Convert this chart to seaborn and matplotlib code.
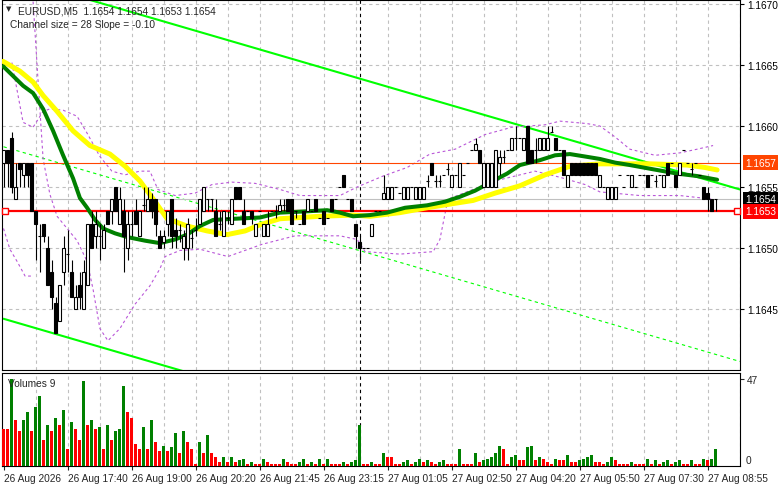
import matplotlib

matplotlib.use("Agg")

import matplotlib.pyplot as plt
import numpy as np
import pandas as pd
import seaborn as sns

sns.set_theme(style="white")
plt.rcParams["font.family"] = ["Liberation Sans", "DejaVu Sans"]

# ---- candles (M5 bars, oldest first) ----
opens = [
    1.1657, 1.1658, 1.1659, 1.1654, 1.1657, 1.1656, 1.1657, 1.1657, 1.1653, 1.1651,
    1.1652, 1.1650, 1.1648, 1.16455, 1.1644, 1.1648, 1.16495, 1.1648, 1.1645, 1.1647,
    1.1645, 1.1647, 1.1652, 1.1651, 1.1651, 1.1650, 1.1653, 1.1653, 1.1655, 1.1652,
    1.1653, 1.1650, 1.1652, 1.1653, 1.1651, 1.16535, 1.1653, 1.1654, 1.1654, 1.1651,
    1.16505, 1.1652, 1.1654, 1.16515, 1.16515, 1.1650, 1.1650, 1.16508, 1.16515, 1.1652,
    1.1653, 1.1654, 1.1654, 1.1653, 1.1652, 1.1651, 1.16525, 1.1652, 1.1655, 1.1655,
    1.1653, 1.1653, 1.1653, 1.1651, 1.1653, 1.1651, 1.1651, 1.1653, 1.1653, 1.1653,
    1.16535, 1.1654, 1.1654, 1.1653, 1.1652, 1.1653, 1.1653, 1.1653, 1.1654, 1.16525,
    1.1653, 1.16525, 1.1654, 1.1654, 1.1655, 1.1656, 1.1654, 1.1654, 1.1652, 1.16505,
    1.1650, 1.1650, 1.1651, 1.1653, 1.1653, 1.1654, 1.1654, 1.1654, 1.1655, 1.16545,
    1.1654, 1.1654, 1.1655, 1.1654, 1.1654, 1.1654, 1.16555, 1.1657, 1.16555, 1.16555,
    1.1656, 1.16565, 1.1655, 1.1656, 1.1655, 1.1656, 1.1657, 1.1658, 1.1658, 1.1658,
    1.1655, 1.1655, 1.1655, 1.1655, 1.1657, 1.16575, 1.1658, 1.1658, 1.1659, 1.1659,
    1.1658, 1.1660, 1.1658, 1.1658, 1.1658, 1.1658, 1.1658, 1.16595, 1.1659, 1.1658,
    1.1658, 1.1655, 1.1657, 1.1657, 1.1657, 1.1657, 1.1657, 1.1657, 1.1657, 1.1655,
    1.1655, 1.1654, 1.1654, 1.1654, 1.1656, 1.1655, 1.1656, 1.1655, 1.1655, 1.1656,
    1.1656, 1.1656, 1.1656, 1.16555, 1.1656, 1.1655, 1.1657, 1.1657, 1.1656, 1.1656,
    1.1658, 1.1657, 1.16565, 1.1657, 1.1656, 1.1655, 1.16545, 1.1654, 1.1654,
]
highs = [
    1.1658, 1.1658, 1.16595, 1.1657, 1.1657, 1.1657, 1.1657, 1.1657, 1.1653, 1.1652,
    1.1652, 1.1651, 1.1649, 1.1646, 1.1647, 1.1651, 1.16515, 1.1649, 1.1647, 1.1648,
    1.1649, 1.1652, 1.1653, 1.1653, 1.1652, 1.1652, 1.1653, 1.1654, 1.1655, 1.1655,
    1.1654, 1.1653, 1.1653, 1.1654, 1.1653, 1.1655, 1.1655, 1.16545, 1.1654, 1.16515,
    1.16515, 1.1653, 1.1654, 1.16525, 1.1652, 1.16515, 1.16525, 1.16515, 1.16525, 1.1654,
    1.1655, 1.1654, 1.1654, 1.1654, 1.1653, 1.1653, 1.1653, 1.1654, 1.1655, 1.1655,
    1.1654, 1.1653, 1.1653, 1.1652, 1.1653, 1.1652, 1.1653, 1.1653, 1.16535, 1.1654,
    1.1654, 1.1654, 1.1654, 1.1653, 1.1652, 1.1653, 1.1654, 1.1653, 1.1654, 1.16525,
    1.1653, 1.16525, 1.1654, 1.1654, 1.1655, 1.1656, 1.1654, 1.1654, 1.1652, 1.1651,
    1.1650, 1.1650, 1.1652, 1.1653, 1.1653, 1.1656, 1.1655, 1.1655, 1.1655, 1.16545,
    1.1655, 1.1655, 1.1655, 1.1655, 1.1655, 1.1655, 1.1656, 1.1657, 1.1656, 1.1656,
    1.1656, 1.1657, 1.1656, 1.1656, 1.1657, 1.1656, 1.1657, 1.1658, 1.1659, 1.1658,
    1.1657, 1.1657, 1.1657, 1.1658, 1.1658, 1.1658, 1.1658, 1.1659, 1.1660, 1.1659,
    1.1659, 1.1660, 1.1658, 1.1659, 1.1659, 1.1659, 1.1660, 1.1660, 1.1659, 1.1658,
    1.1658, 1.1656, 1.1657, 1.1657, 1.1657, 1.1657, 1.1657, 1.1657, 1.1657, 1.1656,
    1.1655, 1.1655, 1.1655, 1.1655, 1.1656, 1.1655, 1.1656, 1.1656, 1.1655, 1.1656,
    1.1656, 1.1656, 1.1656, 1.1656, 1.1656, 1.1656, 1.1657, 1.1657, 1.1656, 1.1657,
    1.1658, 1.1657, 1.1657, 1.1657, 1.1656, 1.1655, 1.1655, 1.1654, 1.1654,
]
lows = [
    1.1655, 1.1655, 1.16545, 1.1654, 1.1655, 1.1655, 1.1655, 1.1653, 1.1649, 1.1648,
    1.16505, 1.1647, 1.1645, 1.1643, 1.1644, 1.1647, 1.1648, 1.1646, 1.1645, 1.1645,
    1.1645, 1.1647, 1.1650, 1.1650, 1.1649, 1.1650, 1.1652, 1.1652, 1.1653, 1.1652,
    1.1648, 1.1649, 1.1651, 1.1652, 1.1651, 1.1653, 1.1653, 1.16525, 1.1651, 1.1650,
    1.1650, 1.1651, 1.1650, 1.1650, 1.16505, 1.1649, 1.1649, 1.1650, 1.1651, 1.1652,
    1.1653, 1.1653, 1.1653, 1.1651, 1.16515, 1.1651, 1.1652, 1.1652, 1.1654, 1.1654,
    1.1652, 1.1653, 1.1652, 1.1651, 1.1653, 1.1651, 1.1651, 1.1653, 1.16525, 1.1653,
    1.1653, 1.1653, 1.1652, 1.16525, 1.1652, 1.1652, 1.1653, 1.1653, 1.1653, 1.16525,
    1.1652, 1.16525, 1.1653, 1.1654, 1.1655, 1.1655, 1.1654, 1.1653, 1.1650, 1.1649,
    1.1650, 1.1650, 1.1651, 1.1653, 1.1653, 1.1654, 1.1654, 1.1654, 1.1655, 1.16545,
    1.1654, 1.1654, 1.1655, 1.1654, 1.1654, 1.1654, 1.1655, 1.1656, 1.1655, 1.1655,
    1.1656, 1.1656, 1.1655, 1.1656, 1.1655, 1.1656, 1.1657, 1.1658, 1.1658, 1.1657,
    1.1655, 1.1655, 1.1655, 1.1655, 1.1656, 1.1657, 1.1658, 1.1658, 1.1658, 1.1659,
    1.1658, 1.1657, 1.1657, 1.1657, 1.1658, 1.1658, 1.1658, 1.16595, 1.1658, 1.1658,
    1.1656, 1.1655, 1.1656, 1.1656, 1.1656, 1.1656, 1.1656, 1.1656, 1.1656, 1.1655,
    1.1655, 1.1654, 1.1654, 1.1654, 1.1656, 1.1655, 1.1656, 1.1655, 1.1655, 1.1656,
    1.1656, 1.1655, 1.1656, 1.1655, 1.1656, 1.1655, 1.1656, 1.1657, 1.1655, 1.1656,
    1.1658, 1.1657, 1.1656, 1.1657, 1.1656, 1.1654, 1.1653, 1.1653, 1.1653,
]
closes = [
    1.1658, 1.1657, 1.1655, 1.1655, 1.16565, 1.1657, 1.1656, 1.1653, 1.1652, 1.1651,
    1.1651, 1.1647, 1.1646, 1.1643, 1.1647, 1.1650, 1.16495, 1.1646, 1.1646, 1.1646,
    1.1648, 1.1652, 1.1650, 1.1652, 1.1651, 1.16515, 1.1652, 1.1654, 1.1653, 1.1654,
    1.1651, 1.1652, 1.1652, 1.1652, 1.1653, 1.16535, 1.1654, 1.1653, 1.1652, 1.1650,
    1.1651, 1.1653, 1.1651, 1.1651, 1.16515, 1.1651, 1.1652, 1.16508, 1.16515, 1.1654,
    1.1655, 1.1654, 1.1654, 1.1651, 1.1652, 1.1653, 1.16525, 1.1654, 1.1654, 1.1654,
    1.1652, 1.1653, 1.16525, 1.1652, 1.1653, 1.1652, 1.1652, 1.1653, 1.1653, 1.16535,
    1.16535, 1.1653, 1.1652, 1.1653, 1.1652, 1.1652, 1.1654, 1.1653, 1.1653, 1.16525,
    1.1652, 1.16525, 1.1653, 1.1654, 1.1655, 1.1655, 1.1654, 1.1653, 1.1651, 1.1650,
    1.1650, 1.1650, 1.1652, 1.1653, 1.1653, 1.16545, 1.1655, 1.1655, 1.1655, 1.16545,
    1.1655, 1.1655, 1.1655, 1.1655, 1.1655, 1.1655, 1.16555, 1.1656, 1.16555, 1.16555,
    1.1656, 1.16565, 1.1656, 1.1656, 1.1657, 1.1656, 1.1657, 1.1658, 1.16585, 1.1657,
    1.1657, 1.1657, 1.1657, 1.1658, 1.16575, 1.16575, 1.1658, 1.1659, 1.1659, 1.1659,
    1.1659, 1.1657, 1.1657, 1.1658, 1.1659, 1.1659, 1.1659, 1.16595, 1.1658, 1.1658,
    1.1656, 1.1656, 1.1656, 1.1656, 1.1656, 1.1656, 1.1656, 1.1656, 1.1656, 1.1656,
    1.1655, 1.1655, 1.1655, 1.1655, 1.1656, 1.1655, 1.1656, 1.1656, 1.1655, 1.1656,
    1.1656, 1.1655, 1.1656, 1.16555, 1.1656, 1.1656, 1.1656, 1.1657, 1.1655, 1.1657,
    1.1658, 1.1657, 1.16565, 1.1657, 1.1656, 1.1654, 1.1654, 1.1653, 1.1654,
]
volumes = [
    20, 20, 47, 25, 19, 25, 29, 19, 32, 38, 14, 22, 19, 26, 22, 30, 9, 24, 20, 14,
    46, 22, 25, 20, 21, 9, 22, 14, 19, 20, 43, 29, 26, 12, 9, 21, 9, 25, 13, 8,
    11, 8, 10, 18, 7, 19, 13, 9, 1, 13, 7, 17, 7, 5, 2, 5, 2, 5, 2, 3,
    4, 1, 2, 1, 1, 4, 2, 1, 1, 1, 4, 2, 1, 1, 2, 4, 1, 2, 1, 4,
    1, 4, 1, 1, 1, 2, 1, 2, 3, 22, 1, 1, 2, 1, 1, 7, 5, 5, 1, 1,
    2, 3, 1, 2, 4, 2, 3, 2, 1, 2, 3, 1, 1, 1, 9, 1, 1, 1, 7, 2,
    3, 4, 5, 7, 11, 9, 1, 5, 6, 3, 3, 10, 11, 3, 5, 4, 2, 1, 4, 3,
    3, 6, 2, 2, 3, 4, 5, 6, 2, 2, 1, 2, 5, 3, 1, 1, 1, 2, 1, 1,
    1, 4, 1, 3, 1, 2, 3, 1, 2, 3, 1, 1, 3, 1, 1, 4, 3, 4, 9,
]

# ---- indicators: (bar, price) readings ----
green_ma_bar = [-0.1, 4.9, 7.4, 9.9, 12.4, 14.9, 17.4, 19.1, 20.9, 22.9, 24.9, 27.9, 30.9, 35.4,
                39.1, 42.9, 45.9, 49.1, 52.4, 57.9, 64.1, 69.1, 75.4, 80.9, 84.1, 87.4, 91.6,
                95.9, 100.4, 105.9, 110.4, 114.1, 117.9, 122.4, 125.9, 129.1, 134.1, 137.9,
                141.6, 145.4, 149.1, 152.9, 156.6, 161.6, 168.4, 173.4, 178.4]
green_ma = [1.16649, 1.16633, 1.16627, 1.16614, 1.16596, 1.16576, 1.16557, 1.16541, 1.16533,
            1.16523, 1.16516, 1.16512, 1.16509, 1.16506, 1.16504, 1.16507, 1.16511, 1.16518,
            1.16523, 1.16524, 1.16525, 1.16529, 1.16530, 1.16531, 1.16529, 1.16526, 1.16527,
            1.16529, 1.16533, 1.16535, 1.16538, 1.16542, 1.16547, 1.16555, 1.16561, 1.16568,
            1.16572, 1.16576, 1.16577, 1.16575, 1.16573, 1.16570, 1.16568, 1.16565, 1.16561,
            1.16559, 1.16556]
yellow_ma_bar = [-0.1, 4.1, 7.4, 9.9, 13.4, 17.4, 21.6, 26.6, 30.4, 34.1, 37.9, 40.9, 45.9, 50.9,
                 55.9, 60.4, 64.1, 69.1, 79.1, 87.4, 91.6, 99.1, 105.9, 111.6, 117.4, 122.9,
                 129.1, 135.4, 141.6, 149.1, 154.1, 161.6, 170.9, 175.4, 178.4]
yellow_ma = [1.16653, 1.16645, 1.16636, 1.16625, 1.16612, 1.16596, 1.16584, 1.16577, 1.16567,
             1.16555, 1.16538, 1.16524, 1.16518, 1.16514, 1.16511, 1.16514, 1.16519, 1.16524,
             1.16526, 1.16527, 1.16526, 1.16529, 1.16533, 1.16536, 1.16539, 1.16545, 1.16551,
             1.16560, 1.16567, 1.16569, 1.16569, 1.16569, 1.16568, 1.16566, 1.16564]
band_up_bar = [2.1, 4.9, 7.4, 9.9, 11.6, 14.9, 18.4, 21.1, 24.1, 27.1, 30.4, 34.1, 36.6, 38.6,
               42.9, 47.9, 52.1, 57.1, 62.9, 69.1, 74.1, 84.1, 88.4, 94.9, 100.9, 106.6, 112.9,
               120.4, 127.1, 135.4, 139.1, 145.9, 149.1, 152.9, 156.6, 162.9, 169.1, 173.4, 177.4]
band_up = [1.16652, 1.16603, 1.16599, 1.16612, 1.16614, 1.16613, 1.16608, 1.16593, 1.16575,
           1.16563, 1.16560, 1.16563, 1.16563, 1.16548, 1.16543, 1.16545, 1.16552, 1.16554,
           1.16553, 1.16548, 1.16543, 1.16543, 1.16550, 1.16559, 1.16566, 1.16577, 1.16581,
           1.16593, 1.16599, 1.16601, 1.16604, 1.16602, 1.16600, 1.16591, 1.16581, 1.16576,
           1.16578, 1.16581, 1.16584]
band_lo_bar = [7.4, 8.6, 9.9, 11.6, 13.4, 15.9, 18.4, 20.9, 22.4, 24.1, 26.1, 29.1, 32.9, 36.6,
               39.1, 40.4, 44.1, 49.1, 56.1, 64.6, 72.9, 84.1, 88.4, 90.4, 99.1, 107.4, 109.1,
               111.1, 116.6, 122.9, 132.9, 139.1, 145.4, 149.1, 159.1, 169.1, 177.4]
band_lo = [1.16702, 1.16639, 1.16573, 1.16544, 1.16526, 1.16516, 1.16506, 1.16489, 1.16466,
           1.16434, 1.16424, 1.16434, 1.16454, 1.16469, 1.16483, 1.16493, 1.16498, 1.16499,
           1.16493, 1.16503, 1.16510, 1.16510, 1.16507, 1.16497, 1.16495, 1.16497, 1.16507,
           1.16540, 1.16547, 1.16555, 1.16563, 1.16558, 1.16552, 1.16546, 1.16543, 1.16543,
           1.16540]
band_left_bar = [0.0, 1.6, 3.4, 5.4, 7.4]
band_left = [1.16516, 1.16499, 1.16489, 1.16477, 1.16477]

# regression channel end points
channel_bar = [0.0, 184.1]
channel_up = [1.16724, 1.16548]
channel_mid = [1.16583, 1.16407]
channel_lo = [1.16442, 1.16266]

price_ticks = [1.1645, 1.1650, 1.1655, 1.1660, 1.1665, 1.1670]
time_labels = ["26 Aug 2026", "26 Aug 17:40", "26 Aug 19:00", "26 Aug 20:20", "26 Aug 21:45",
               "26 Aug 23:15", "27 Aug 01:05", "27 Aug 02:50", "27 Aug 04:20", "27 Aug 05:50",
               "27 Aug 07:30", "27 Aug 08:55"]
day_break_bar = 89
level_resist = 1.1657
level_bid = 1.1654
level_line = 1.1653

df = pd.DataFrame({"open": opens, "high": highs, "low": lows, "close": closes, "volume": volumes})
df["bar"] = np.arange(len(df))

W, H = 781, 489
FS = 7.3
fig = plt.figure(figsize=(W / 100, H / 100), dpi=100)
ax = fig.add_axes([2 / W, 1 - 371 / H, 738 / W, 370 / H])
axv = fig.add_axes([2 / W, 1 - 467 / H, 738 / W, 93 / H])

x_lo, x_hi = -0.375, 184.125
grid_kw = dict(color="#c0c0c0", lw=0.8, ls=(0, (3, 3)), zorder=0)
for a in (ax, axv):
    a.set_xlim(x_lo, x_hi)
    a.set_facecolor("white")
    for s in a.spines.values():
        s.set_color("black")
        s.set_linewidth(0.8)
    for b in range(8, 185, 8):
        a.axvline(b, **grid_kw)
    a.axvline(day_break_bar, color="black", lw=0.8, ls=(0, (3, 3)), zorder=1)

ax.set_ylim(1.16400, 1.167033)
for p in price_ticks:
    ax.axhline(p, **grid_kw)

# channel
sns.lineplot(x=channel_bar, y=channel_up, ax=ax, color="#00ff00", lw=1.5, zorder=2)
sns.lineplot(x=channel_bar, y=channel_lo, ax=ax, color="#00ff00", lw=1.5, zorder=2)
ax.plot(channel_bar, channel_mid, color="#00ff00", lw=0.8, ls=(0, (3, 3)), zorder=2)

# bands
for bx, by in ((band_up_bar, band_up), (band_lo_bar, band_lo), (band_left_bar, band_left)):
    ax.plot(bx, by, color="#b957d8", lw=0.8, ls=(0, (2.5, 2.5)), zorder=2)

# levels
ax.axhline(level_resist, color="#ff4500", lw=0.8, zorder=2)
ax.axhline(level_bid, color="#c0c0c0", lw=0.8, zorder=2)
ax.axhline(level_line, color="#ff0000", lw=1.6, zorder=3)
ax.plot([0.3, 183.4], [level_line, level_line], ls="none", marker="s", ms=4,
        mfc="white", mec="#ff0000", mew=1.0, zorder=4, clip_on=False)

# moving averages
sns.lineplot(x=yellow_ma_bar, y=yellow_ma, ax=ax, color="#ffff00", lw=3.6, sort=False, zorder=3)
sns.lineplot(x=green_ma_bar, y=green_ma, ax=ax, color="#008000", lw=2.9, sort=False, zorder=3)

# candles
bw = 0.72
up = df["close"] > df["open"]
ax.vlines(df["bar"], df["low"], df["high"], color="black", lw=0.8, zorder=5)
body_lo = np.minimum(df["open"], df["close"])
body_h = (df["close"] - df["open"]).abs()
flat = body_h < 1e-7
ax.bar(df["bar"][~flat], body_h[~flat], bottom=body_lo[~flat], width=bw,
       color=np.where(up[~flat], "white", "black"), edgecolor="black", lw=0.8, zorder=6)
ax.hlines(df["close"][flat], df["bar"][flat] - bw / 2, df["bar"][flat] + bw / 2,
          color="black", lw=0.8, zorder=6)

# price axis
ax.yaxis.tick_right()
ax.set_yticks(price_ticks)
ax.set_yticklabels([f"{p:.4f}" for p in price_ticks])
ax.tick_params(axis="y", direction="out", length=3, width=0.8, pad=2, labelsize=FS,
               colors="black", right=True, left=False)
ax.set_xticks([])
ax_tr = ax.get_yaxis_transform()
box_kw = dict(boxstyle="square,pad=0.22", ec="none")
ax.text(1.007, level_resist, f"{level_resist:.4f}", transform=ax_tr, va="center", ha="left",
        fontsize=FS, color="white", bbox=dict(fc="#ff4500", **box_kw), zorder=10, clip_on=False)
ax.text(1.007, level_bid, f"{level_bid:.4f}", transform=ax_tr, va="center", ha="left",
        fontsize=FS, color="white", bbox=dict(fc="black", **box_kw), zorder=10, clip_on=False)
ax.text(1.007, level_line, f"{level_line:.4f}", transform=ax_tr, va="center", ha="left",
        fontsize=FS, color="white", bbox=dict(fc="#ff0000", **box_kw), zorder=11, clip_on=False)

last = df.iloc[-1]
ax.text(0.005, 0.985, "\u25bc", transform=ax.transAxes, fontsize=5, va="top", ha="left",
        family="DejaVu Sans")
ax.text(0.022, 0.985, f"EURUSD,M5  {last.open:.4f} {last.high:.4f} {last.low:.4f} {last.close:.4f}",
        transform=ax.transAxes, fontsize=FS, va="top", ha="left")
ax.text(0.011, 0.95, "Channel size = 28 Slope = -0.10", transform=ax.transAxes,
        fontsize=FS, va="top", ha="left")

# volumes
vol_up = df["volume"].diff().fillna(-1) > 0
axv.bar(df["bar"], df["volume"], width=bw, color=np.where(vol_up, "#008000", "#ff0000"),
        lw=0, zorder=3)
axv.set_ylim(0, 50.2)
axv.yaxis.tick_right()
axv.set_yticks([47])
axv.set_yticklabels(["47"])
axv.tick_params(axis="y", direction="out", length=3, width=0.8, pad=2, labelsize=FS, right=True, left=False)
axv.text(1.007, 3.2, "0", transform=axv.get_yaxis_transform(), fontsize=FS, va="center", ha="left")
axv.text(0.008, 0.89, f"Volumes {volumes[-1]}", transform=axv.transAxes, fontsize=FS,
         va="center", ha="left")
axv.set_xticks(range(0, 177, 16))
axv.set_xticklabels(time_labels, ha="left")
axv.tick_params(axis="x", direction="out", length=3, width=0.8, pad=2, labelsize=FS, bottom=True)

fig.savefig("out.png", dpi=100, facecolor="white")
